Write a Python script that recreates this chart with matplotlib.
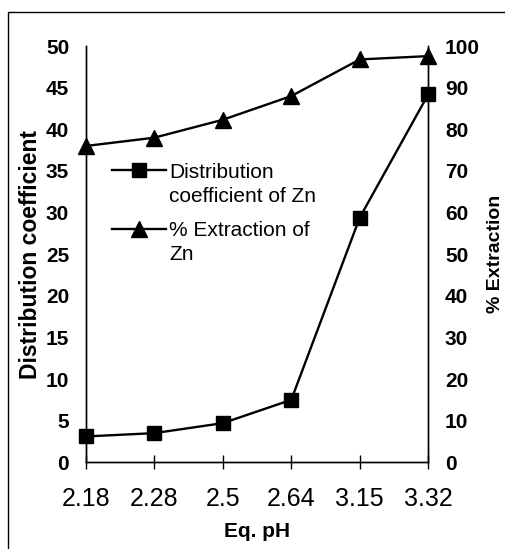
import matplotlib.pyplot as plt
import matplotlib.transforms as mtransforms
from matplotlib.legend_handler import HandlerLine2D
from matplotlib.patches import Rectangle

ph_labels = ['2.18', '2.28', '2.5', '2.64', '3.15', '3.32']
dist_coef = [3.1, 3.5, 4.7, 7.5, 29.4, 44.2]
extraction = [76.0, 78.0, 82.3, 88.0, 96.8, 97.6]

plt.rcParams['font.family'] = ['Liberation Sans', 'DejaVu Sans']

LEG_FS = 15
LEG_LS = 1.33


# legend handle lined up with the first line of a two-line label
class TopLineHandler(HandlerLine2D):
    def create_artists(self, legend, orig_handle, xdescent, ydescent,
                       width, height, fontsize, trans):
        arts = super().create_artists(legend, orig_handle, xdescent, ydescent,
                                      width, height, fontsize, trans)
        shift = mtransforms.Affine2D().translate(0, 0.5 * LEG_LS * fontsize)
        for a in arts:
            a.set_transform(shift + trans)
        return arts


fig = plt.figure(figsize=(5.05, 5.49), dpi=100)
ax = fig.add_axes([0.170, 0.158, 0.678, 0.758])
ax2 = ax.twinx()

x = list(range(len(ph_labels)))
l1, = ax.plot(x, dist_coef, color='black', lw=1.7, marker='s', markersize=10,
              label='Distribution\ncoefficient of Zn', clip_on=False, zorder=3)
l2, = ax2.plot(x, extraction, color='black', lw=1.7, marker='^', markersize=11,
               label='% Extraction of\nZn', clip_on=False, zorder=3)

ax.set_xlim(0, len(ph_labels) - 1)
ax.set_ylim(0, 50)
ax2.set_ylim(0, 100)
ax.set_yticks(range(0, 51, 5))
ax2.set_yticks(range(0, 101, 10))
ax.set_xticks(x)
ax.set_xticklabels(ph_labels, fontsize=18)

for a in (ax, ax2):
    a.spines['top'].set_visible(False)
    for s in a.spines.values():
        s.set_linewidth(1.0)
ax.tick_params(axis='y', length=0, pad=12, labelsize=15)
ax2.tick_params(axis='y', length=0, pad=12, labelsize=15)
ax.tick_params(axis='x', direction='inout', length=10, width=1.0, pad=13)
for t in ax.get_yticklabels() + ax2.get_yticklabels():
    t.set_fontweight('bold')

ax.set_xlabel('Eq. pH', fontsize=15, fontweight='bold', labelpad=8)
ax.set_ylabel('Distribution coefficient', fontsize=16.5, fontweight='bold', labelpad=3)
ax2.set_ylabel('% Extraction', fontsize=14, fontweight='bold', labelpad=5)

leg = ax.legend(handles=[l1, l2], loc='upper left', bbox_to_anchor=(0.052, 0.74),
                frameon=False, fontsize=LEG_FS, handlelength=2.6, handletextpad=0.15,
                labelspacing=0.74, borderaxespad=0,
                handler_map={l1: TopLineHandler(), l2: TopLineHandler()})
for t in leg.get_texts():
    t.set_linespacing(LEG_LS)

# scanned-page frame round the chart
fig.patches.append(Rectangle((8 / 505, -0.05), 1.1, 0.05 + (549 - 12) / 549,
                             transform=fig.transFigure, fill=False,
                             edgecolor='black', lw=1.0))

fig.savefig('out.png', dpi=100)
